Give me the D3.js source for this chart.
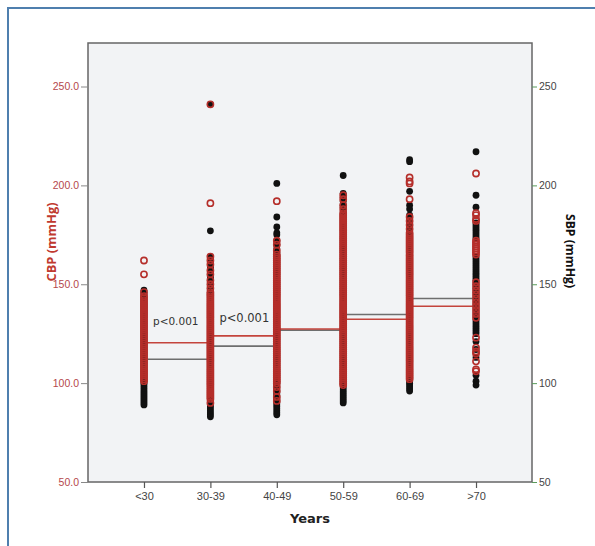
<!DOCTYPE html>
<html>
<head>
<meta charset="utf-8">
<script src="https://cdn.jsdelivr.net/npm/d3@7"></script>
<style>
  body { margin: 0; background: #fff; }
  svg { display: block; font-family: "DejaVu Sans", Verdana, sans-serif; }
</style>
</head>
<body>
<svg id="chart" width="595" height="546"></svg>
<script>
// age groups
const groups = ['<30', '30-39', '40-49', '50-59', '60-69', '>70']

// CBP readings (mmHg) per age group, red open circles
const cbp = {
  '<30': [162, 155, 146, 144, 143, 142, 141, 140, 139, 138, 137, 136, 135, 134, 133, 132, 131, 130, 129, 128, 127, 126, 125, 124, 123, 122, 121, 120, 119, 118, 117, 116, 115, 114, 113, 112, 111, 110, 109, 108, 107, 106, 105, 104, 103, 102, 101],
  '30-39': [241, 191, 164, 162, 160, 157, 155, 152, 150, 148, 146, 145, 144, 143, 142, 141, 140, 139, 138, 137, 136, 135, 134, 133, 132, 131, 130, 129, 128, 127, 126, 125, 124, 123, 122, 121, 120, 119, 118, 117, 116, 115, 114, 113, 112, 111, 110, 109, 108, 107, 106, 105, 104, 103, 102, 101, 100, 99, 98, 97, 96, 95, 94, 93, 92, 90],
  '40-49': [192, 172, 170, 167, 165, 164, 163, 162, 161, 160, 159, 158, 157, 156, 155, 154, 153, 152, 151, 150, 149, 148, 147, 146, 145, 144, 143, 142, 141, 140, 139, 138, 137, 136, 135, 134, 133, 132, 131, 130, 129, 128, 127, 126, 125, 124, 123, 122, 121, 120, 119, 118, 117, 116, 115, 114, 113, 112, 111, 110, 109, 108, 107, 106, 105, 104, 103, 102, 101, 100, 98, 96, 93, 91],
  '50-59': [195, 193, 190, 188, 186, 185, 184, 183, 182, 181, 180, 179, 178, 177, 176, 175, 174, 173, 172, 171, 170, 169, 168, 167, 166, 165, 164, 163, 162, 161, 160, 159, 158, 157, 156, 155, 154, 153, 152, 151, 150, 149, 148, 147, 146, 145, 144, 143, 142, 141, 140, 139, 138, 137, 136, 135, 134, 133, 132, 131, 130, 129, 128, 127, 126, 125, 124, 123, 122, 121, 120, 119, 118, 117, 116, 115, 114, 113, 112, 111, 110, 109, 108, 107, 106, 105, 104, 103, 102, 101, 100, 99],
  '60-69': [204, 202, 201, 193, 184, 182, 180, 178, 176, 175, 174, 173, 172, 171, 170, 169, 168, 167, 166, 165, 164, 163, 162, 161, 160, 159, 158, 157, 156, 155, 154, 153, 152, 151, 150, 149, 148, 147, 146, 145, 144, 143, 142, 141, 140, 139, 138, 137, 136, 135, 134, 133, 132, 131, 130, 129, 128, 127, 126, 125, 124, 123, 122, 121, 120, 119, 118, 117, 116, 115, 114, 113, 112, 111, 110, 109, 108, 107, 106, 105, 104, 103, 102],
  '>70': [206, 186, 185, 183, 182, 172, 171, 170, 169, 168, 167, 166, 165, 151, 149, 147, 145, 143, 141, 139, 137, 135, 133, 123, 118, 116, 115, 111, 107, 106]
}

// SBP readings (mmHg) per age group, black filled circles
const sbp = {
  '<30': [147, 146, 145, 144, 143, 142, 141, 140, 139, 138, 137, 136, 135, 134, 133, 132, 131, 130, 129, 128, 127, 126, 125, 124, 123, 122, 121, 120, 119, 118, 117, 116, 115, 114, 113, 112, 111, 110, 109, 108, 107, 106, 105, 104, 103, 102, 101, 100, 99, 98, 97, 96, 95, 94, 93, 92, 91, 90, 89],
  '30-39': [241, 177, 164, 163, 162, 161, 160, 159, 158, 157, 156, 155, 154, 153, 152, 151, 150, 149, 148, 147, 146, 145, 144, 143, 142, 141, 140, 139, 138, 137, 136, 135, 134, 133, 132, 131, 130, 129, 128, 127, 126, 125, 124, 123, 122, 121, 120, 119, 118, 117, 116, 115, 114, 113, 112, 111, 110, 109, 108, 107, 106, 105, 104, 103, 102, 101, 100, 99, 98, 97, 96, 95, 94, 93, 92, 91, 90, 89, 88, 87, 86, 85, 84, 83],
  '40-49': [201, 184, 179, 176, 175, 172, 170, 168, 166, 165, 164, 163, 162, 161, 160, 159, 158, 157, 156, 155, 154, 153, 152, 151, 150, 149, 148, 147, 146, 145, 144, 143, 142, 141, 140, 139, 138, 137, 136, 135, 134, 133, 132, 131, 130, 129, 128, 127, 126, 125, 124, 123, 122, 121, 120, 119, 118, 117, 116, 115, 114, 113, 112, 111, 110, 109, 108, 107, 106, 105, 104, 103, 102, 101, 100, 99, 98, 97, 96, 95, 94, 93, 92, 91, 90, 89, 88, 87, 86, 85, 84],
  '50-59': [205, 196, 194, 192, 190, 189, 187, 186, 185, 184, 183, 182, 181, 180, 179, 178, 177, 176, 175, 174, 173, 172, 171, 170, 169, 168, 167, 166, 165, 164, 163, 162, 161, 160, 159, 158, 157, 156, 155, 154, 153, 152, 151, 150, 149, 148, 147, 146, 145, 144, 143, 142, 141, 140, 139, 138, 137, 136, 135, 134, 133, 132, 131, 130, 129, 128, 127, 126, 125, 124, 123, 122, 121, 120, 119, 118, 117, 116, 115, 114, 113, 112, 111, 110, 109, 108, 107, 106, 105, 104, 103, 102, 101, 100, 99, 98, 97, 96, 95, 94, 93, 92, 91, 90],
  '60-69': [213, 212, 197, 190, 188, 185, 183, 181, 179, 177, 175, 174, 173, 172, 171, 170, 169, 168, 167, 166, 165, 164, 163, 162, 161, 160, 159, 158, 157, 156, 155, 154, 153, 152, 151, 150, 149, 148, 147, 146, 145, 144, 143, 142, 141, 140, 139, 138, 137, 136, 135, 134, 133, 132, 131, 130, 129, 128, 127, 126, 125, 124, 123, 122, 121, 120, 119, 118, 117, 116, 115, 114, 113, 112, 111, 110, 109, 108, 107, 106, 105, 104, 103, 102, 101, 100, 99, 98, 97, 96],
  '>70': [217, 195, 189, 181, 180, 179, 178, 177, 176, 175, 174, 173, 164, 163, 162, 161, 160, 159, 158, 157, 156, 155, 154, 153, 152, 150, 148, 146, 144, 142, 140, 138, 136, 134, 132, 131, 130, 129, 128, 127, 126, 125, 121, 117, 113, 104, 101, 99]
}

// group means, drawn as a step from each group to the next one
const cbpMean = [120.4, 123.9, 127.4, 132.3, 138.9]
const sbpMean = [112.1, 118.7, 126.8, 134.7, 142.8]

// significance notes: [group, y value, label]
const notes = [['<30', 129.3, 'p<0.001'], ['30-39', 131, 'p<0.001']]

const leftTicks = [50, 100, 150, 200, 250]
const rightTicks = [50, 100, 150, 200, 250]

const svg = d3.select('#chart')
const pLeft = 88, pRight = 532, pTop = 43, pBottom = 482

const red = '#b52e2a'

// outer blue frame
svg.append('rect').attr('x', 8).attr('y', 8).attr('width', 620).attr('height', 580)
   .attr('fill', '#fff').attr('stroke', '#4f7fae').attr('stroke-width', 2)

const x = d3.scalePoint().domain(groups).range([pLeft, pRight]).padding(0.843)
const y = d3.scaleLinear().domain([50, 272]).range([pBottom, pTop])

// plot area
svg.append('rect').attr('x', pLeft).attr('y', pTop).attr('width', pRight-pLeft).attr('height', pBottom-pTop)
   .attr('fill', '#f2f3f5')

// mean step lines
const segs = g => g.map((v, i) => ({x1: x(groups[i]), x2: x(groups[i+1]), v}))
svg.append('g').selectAll('line').data(segs(sbpMean)).join('line')
   .attr('x1', d => d.x1).attr('x2', d => d.x2)
   .attr('y1', d => y(d.v)).attr('y2', d => y(d.v))
   .attr('stroke', '#6e6e6e').attr('stroke-width', 1.6)
svg.append('g').selectAll('line').data(segs(cbpMean)).join('line')
   .attr('x1', d => d.x1).attr('x2', d => d.x2)
   .attr('y1', d => y(d.v)).attr('y2', d => y(d.v))
   .attr('stroke', '#c4443c').attr('stroke-width', 1.6)

// points: black SBP first, red CBP on top
const flat = obj => groups.flatMap(g => obj[g].map(v => ({g, v})))
svg.append('g').selectAll('circle').data(flat(sbp)).join('circle')
   .attr('cx', d => x(d.g)).attr('cy', d => y(d.v)).attr('r', 3.4)
   .attr('fill', '#111')
svg.append('g').selectAll('circle').data(flat(cbp)).join('circle')
   .attr('cx', d => x(d.g)).attr('cy', d => y(d.v)).attr('r', 3.1)
   .attr('fill', 'none').attr('stroke', red).attr('stroke-width', 1.6)

// notes
svg.append('g').selectAll('text').data(notes).join('text')
   .attr('x', d => x(d[0]) + 9).attr('y', d => y(d[1]))
   .attr('font-size', (d, i) => i ? 11.5 : 10.5).attr('fill', '#333')
   .text(d => d[2])

// plot border
svg.append('rect').attr('x', pLeft).attr('y', pTop).attr('width', pRight-pLeft).attr('height', pBottom-pTop)
   .attr('fill', 'none').attr('stroke', '#666').attr('stroke-width', 1.5)

// axes
const yl = svg.append('g').attr('transform', `translate(${pLeft},0)`)
   .call(d3.axisLeft(y).tickValues(leftTicks).tickFormat(d3.format('.1f')).tickSize(7).tickPadding(2))
yl.select('.domain').remove()
yl.selectAll('line').attr('stroke', '#888')
yl.selectAll('text').attr('fill', '#b5484b').attr('font-size', 10.5)

const yr = svg.append('g').attr('transform', `translate(${pRight},0)`)
   .call(d3.axisRight(y).tickValues(rightTicks).tickSize(5).tickPadding(2))
yr.select('.domain').remove()
yr.selectAll('line').attr('stroke', '#5a9a5a')
yr.selectAll('text').attr('fill', '#444').attr('font-size', 10.5)

const xa = svg.append('g').attr('transform', `translate(0,${pBottom})`)
   .call(d3.axisBottom(x).tickSize(6).tickPadding(4))
xa.select('.domain').remove()
xa.selectAll('line').attr('stroke', '#555').attr('stroke-width', 1.2)
xa.selectAll('text').attr('fill', '#444').attr('font-size', 11)

// axis titles
svg.append('text').attr('transform', 'translate(55.5,242) rotate(-90)')
   .attr('text-anchor', 'middle').attr('font-family', '"Open Sans", sans-serif')
   .attr('font-size', 12.8).attr('font-weight', 'bold')
   .attr('fill', '#c0392f').text('CBP (mmHg)')
svg.append('text').attr('transform', 'translate(566,251) rotate(90)')
   .attr('text-anchor', 'middle').attr('font-family', '"Open Sans", sans-serif')
   .attr('font-size', 12.2).attr('font-weight', 'bold')
   .attr('fill', '#111').text('SBP (mmHg)')
svg.append('text').attr('x', (pLeft+pRight)/2).attr('y', 523)
   .attr('text-anchor', 'middle').attr('font-size', 13).attr('font-weight', 'bold')
   .attr('fill', '#222').text('Years')
</script>
</body>
</html>
